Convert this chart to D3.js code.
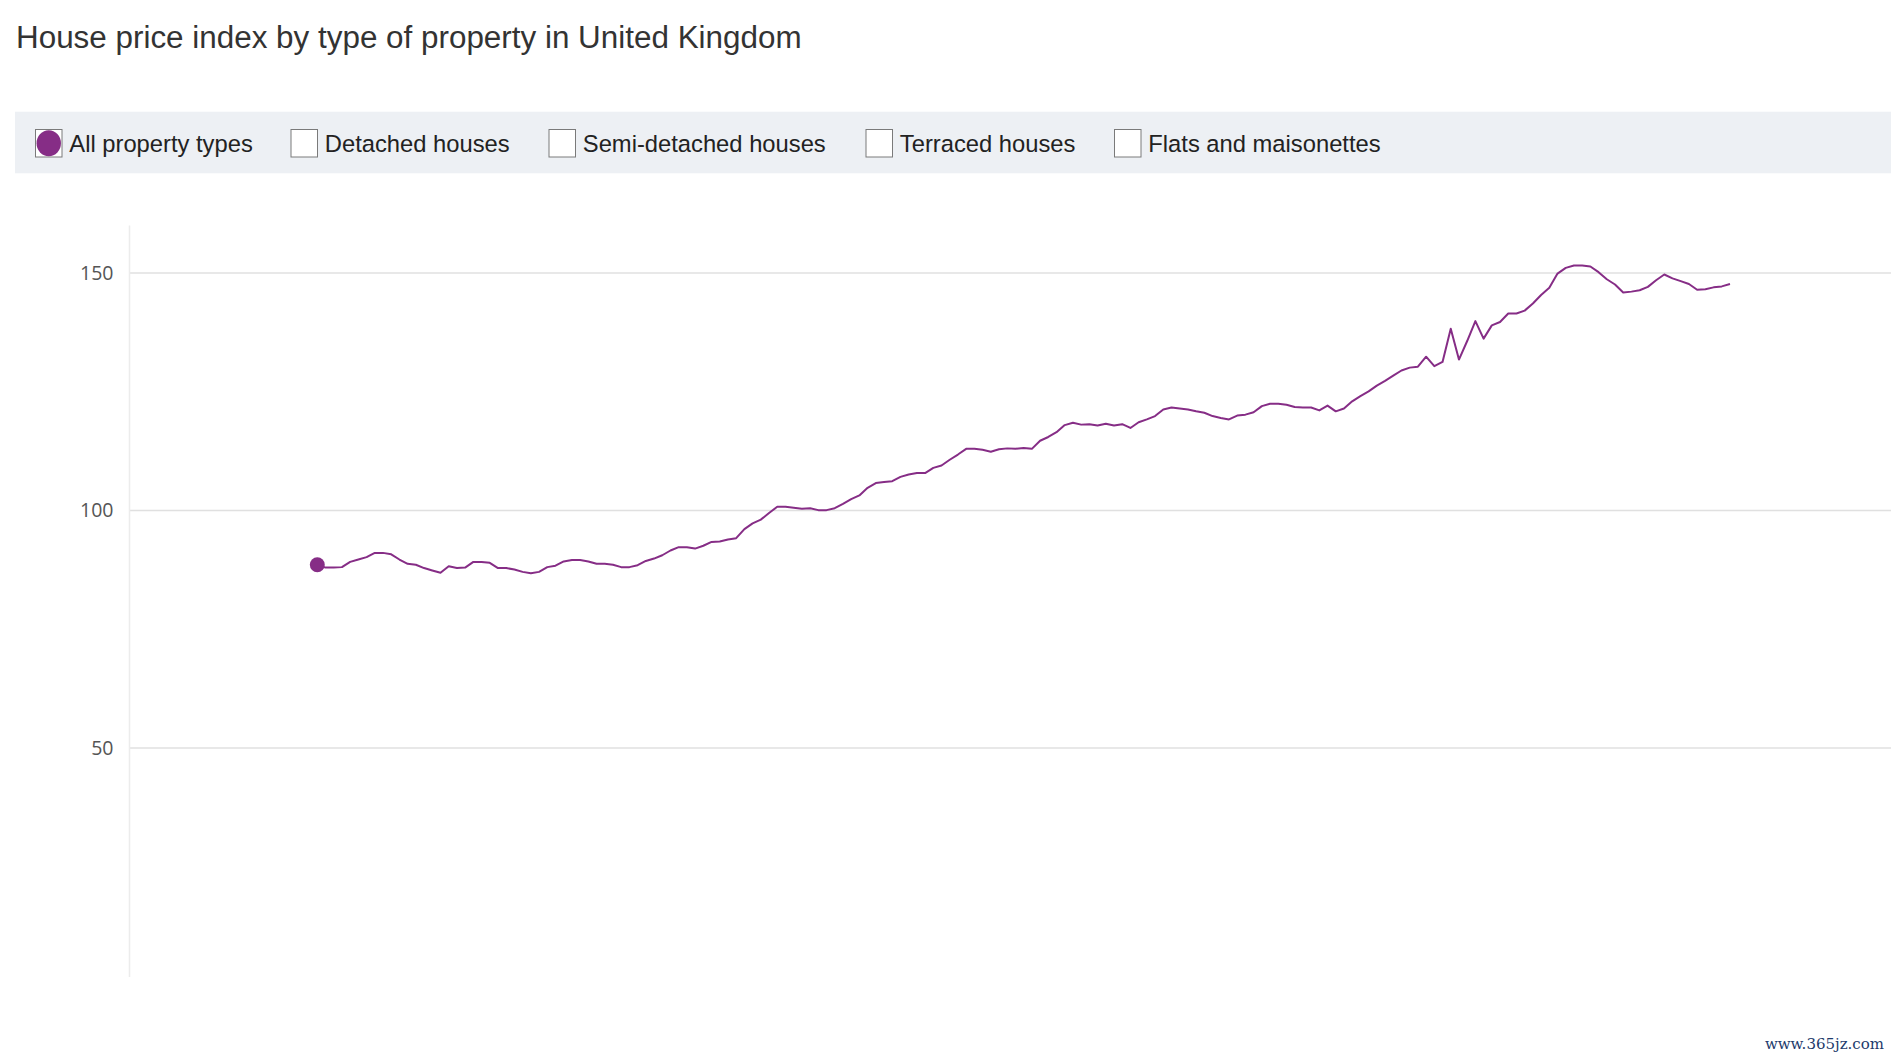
<!DOCTYPE html>
<html>
<head>
<meta charset="utf-8">
<script src="https://cdn.jsdelivr.net/npm/d3@7"></script>
<style>
  html, body { margin: 0; padding: 0; background: #fff; }
  svg { display: block; }
</style>
</head>
<body>
<svg id="chart" width="1891" height="1060"></svg>
<script>
// ---- Data ----
const title = "House price index by type of property in United Kingdom";
const seriesNames = ["All property types", "Detached houses", "Semi-detached houses", "Terraced houses", "Flats and maisonettes"];
const activeSeries = "All property types";
const yTicks = [50, 100, 150];
// Monthly index values, All property types
const allPropertyTypes = [
  88.6, 88.0, 88.0, 88.1, 89.2, 89.7, 90.2, 91.1, 91.1, 90.8,
  89.7, 88.8, 88.6, 87.9, 87.4, 86.9, 88.3, 87.9, 88.0, 89.2,
  89.2, 89.0, 87.9, 87.9, 87.6, 87.1, 86.8, 87.1, 88.1, 88.4,
  89.3, 89.6, 89.6, 89.3, 88.8, 88.8, 88.6, 88.1, 88.1, 88.5,
  89.4, 89.9, 90.6, 91.6, 92.3, 92.3, 92.0, 92.6, 93.4, 93.5,
  93.9, 94.2, 96.1, 97.3, 98.1, 99.5, 100.8, 100.8, 100.6, 100.4,
  100.5, 100.1, 100.1, 100.5, 101.4, 102.4, 103.2, 104.8, 105.8, 106.0,
  106.2, 107.1, 107.6, 107.9, 107.9, 109.0, 109.5, 110.7, 111.8, 113.0,
  113.0, 112.8, 112.4, 112.9, 113.1, 113.0, 113.2, 113.0, 114.7, 115.5,
  116.5, 118.0, 118.5, 118.1, 118.2, 117.9, 118.3, 117.9, 118.2, 117.4,
  118.6, 119.2, 119.9, 121.3, 121.7, 121.5, 121.3, 120.9, 120.6, 119.9,
  119.5, 119.2, 120.0, 120.2, 120.7, 122.0, 122.5, 122.5, 122.3, 121.8,
  121.7, 121.7, 121.1, 122.1, 120.9, 121.5, 123.0, 124.1, 125.1, 126.3,
  127.3, 128.4, 129.5, 130.1, 130.3, 132.4, 130.4, 131.3, 138.3, 131.8,
  135.7, 139.9, 136.2, 139.0, 139.7, 141.5, 141.5, 142.1, 143.6, 145.4,
  146.9, 149.9, 151.1, 151.6, 151.6, 151.4, 150.2, 148.7, 147.6, 145.9,
  146.1, 146.4, 147.1, 148.5, 149.7, 148.9, 148.3, 147.7, 146.5, 146.6,
  147.0, 147.2, 147.7
];
const watermark = "www.365jz.com";

// ---- Layout / style ----
const W = 1891, H = 1060;
const purple = "#862d86";
const svg = d3.select("#chart");
const legendBoxX = [35.5, 291, 549, 866, 1114.5]; // layout positions of legend boxes

function fitFont(textSel, family, targetWidth) {
  textSel.style("font-family", family).style("font-size", "100px");
  const w = textSel.node().getComputedTextLength();
  const size = 100 * targetWidth / w;
  textSel.style("font-size", size + "px");
  return size;
}

// Title
const t = svg.append("text")
  .attr("x", 16).attr("y", 48.3)
  .attr("fill", "#333")
  .text(title);
fitFont(t, "'Liberation Sans', Arial, sans-serif", 786);

// Legend band
svg.append("rect")
  .attr("x", 15).attr("y", 111.7)
  .attr("width", W - 15).attr("height", 61.6)
  .attr("fill", "#edf0f4");

// Legend items
const legendFont = "'Liberation Sans', Arial, sans-serif";
const probe = svg.append("text").text("Detached houses");
const legendSize = fitFont(probe, legendFont, 185);
probe.remove();

seriesNames.forEach((name, i) => {
  const lx = legendBoxX[i];
  const g = svg.append("g");
  g.append("rect")
    .attr("x", lx).attr("y", 129.5)
    .attr("width", 26.5).attr("height", 27.5)
    .attr("fill", "#fff")
    .attr("stroke", "#7a7a7a").attr("stroke-width", 1);
  if (name === activeSeries) {
    g.append("ellipse")
      .attr("cx", lx + 13.25).attr("cy", 143.25)
      .attr("rx", 12.2).attr("ry", 13)
      .attr("fill", purple);
  }
  g.append("text")
    .attr("x", lx + 33.8).attr("y", 151.7)
    .attr("fill", "#222")
    .style("font-family", legendFont)
    .style("font-size", legendSize + "px")
    .text(name);
});

// Scales
const y = d3.scaleLinear().domain([0, 160]).range([985.6, 225.6]);
const x = d3.scaleLinear().domain([0, allPropertyTypes.length - 1]).range([317.3, 1730]);
const axisX = 129.5;

// Gridlines
svg.append("g")
  .selectAll("line")
  .data(yTicks)
  .join("line")
  .attr("x1", axisX).attr("x2", W)
  .attr("y1", d => y(d)).attr("y2", d => y(d))
  .attr("stroke", "#e0e0e0").attr("stroke-width", 1.5);

// Y axis line
svg.append("line")
  .attr("x1", axisX).attr("x2", axisX)
  .attr("y1", y(160)).attr("y2", 977)
  .attr("stroke", "#ececec").attr("stroke-width", 1.5);

// Y axis labels via d3 axis
const yAxis = d3.axisLeft(y).tickValues(yTicks).tickSize(0).tickPadding(16);
const ga = svg.append("g").attr("transform", `translate(${axisX},0)`).call(yAxis);
ga.select(".domain").remove();
ga.selectAll("text")
  .attr("fill", "#555")
  .style("font-family", "'Open Sans', sans-serif")
  .style("font-size", "19.5px");

// Line
const line = d3.line()
  .x((d, i) => x(i))
  .y(d => y(d));
svg.append("path")
  .datum(allPropertyTypes)
  .attr("d", line)
  .attr("fill", "none")
  .attr("stroke", purple)
  .attr("stroke-width", 2)
  .attr("stroke-linejoin", "round");

// Start marker
svg.append("circle")
  .attr("cx", x(0)).attr("cy", y(allPropertyTypes[0]))
  .attr("r", 7.5)
  .attr("fill", purple);

// Watermark
svg.append("text")
  .attr("x", 1884).attr("y", 1049)
  .attr("text-anchor", "end")
  .attr("fill", "#1d3a6b")
  .style("font-family", "'DejaVu Serif', serif")
  .style("font-size", "15px")
  .text(watermark);
</script>
</body>
</html>
